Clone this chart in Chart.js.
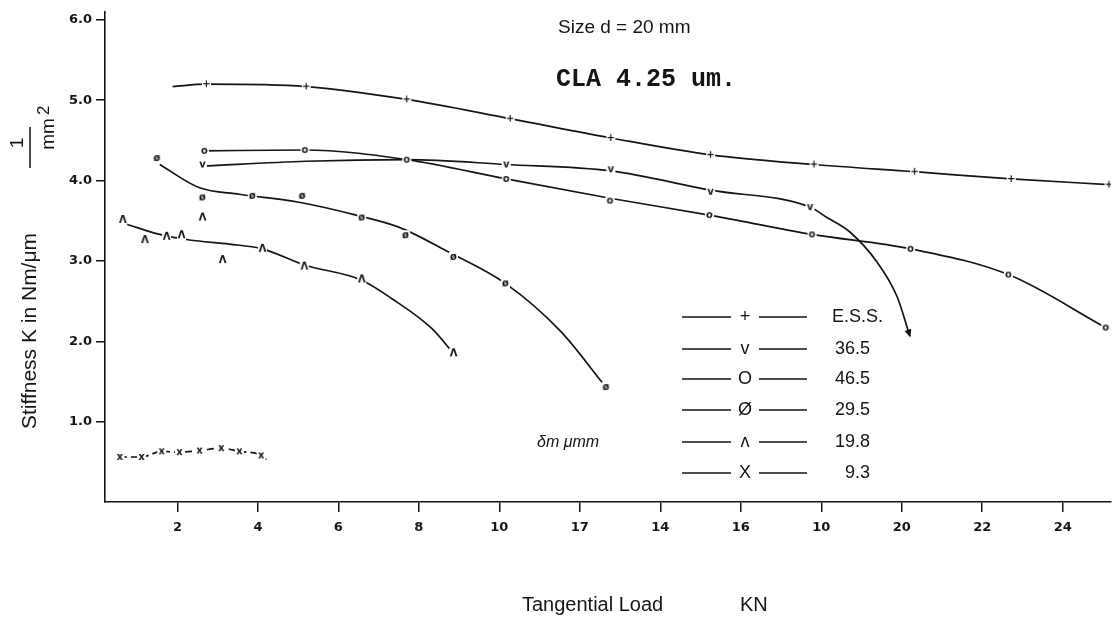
<!DOCTYPE html>
<html>
<head>
<meta charset="utf-8">
<title>Stiffness vs tangential load</title>
<script src="https://cdn.jsdelivr.net/npm/chart.js@4.4.1/dist/chart.umd.min.js"></script>
<style>
    html, body { margin: 0; padding: 0; background: #fff; }
    #wrap { width: 1117px; height: 631px; }
</style>
</head>
<body>
<div id="wrap"><canvas id="stiffChart" width="1117" height="631"></canvas></div>
<script>
// axis ticks (the printed labels, as they appear on the sheet)
const xTickVals = [2, 4, 6, 8, 10, 12, 14, 16, 18, 20, 22, 24];
const xTickText = ['2', '4', '6', '8', '10', '17', '14', '16', '10', '20', '22', '24'];
const yTickVals = [1, 2, 3, 4, 5, 6];
const yTickText = ['1.0', '2.0', '3.0', '4.0', '5.0', '6.0'];

// E.S.S.
const essX = [2.72, 5.20, 7.70, 10.27, 12.77, 15.25, 17.82, 20.32, 22.72, 25.15];
const essY = [5.20, 5.17, 5.01, 4.77, 4.53, 4.32, 4.20, 4.11, 4.02, 3.95];
const essCurveX = [1.88, 2.72, 5.20, 7.70, 10.27, 12.77, 15.25, 17.82, 20.32, 22.72, 25.15];
const essCurveY = [5.17, 5.20, 5.17, 5.01, 4.77, 4.53, 4.32, 4.20, 4.11, 4.02, 3.95];

// 36.5
const v365X = [2.62, 10.17, 12.77, 15.25, 17.72];
const v365Y = [4.20, 4.20, 4.14, 3.86, 3.67];
const v365CurveX = [2.62, 5.20, 7.70, 10.17, 12.77, 15.25, 17.72, 18.14, 18.71, 19.38, 19.88, 20.20];
const v365CurveY = [4.18, 4.24, 4.26, 4.20, 4.12, 3.88, 3.67, 3.54, 3.36, 2.99, 2.56, 2.07];

// 46.5
const o465X = [2.67, 5.17, 7.70, 10.17, 12.75, 15.22, 17.77, 20.22, 22.65, 25.07];
const o465Y = [4.37, 4.38, 4.26, 4.02, 3.75, 3.57, 3.33, 3.15, 2.83, 2.17];
const o465CurveX = [2.67, 5.17, 7.70, 10.17, 12.75, 15.22, 17.77, 20.22, 22.65, 25.07];
const o465CurveY = [4.37, 4.38, 4.26, 4.02, 3.78, 3.57, 3.33, 3.15, 2.83, 2.17];

// 29.5
const o295X = [1.49, 2.62, 3.86, 5.10, 6.58, 7.67, 8.86, 10.15, 12.65];
const o295Y = [4.28, 3.79, 3.81, 3.81, 3.54, 3.32, 3.05, 2.72, 1.43];
const o295CurveX = [1.56, 2.55, 3.54, 5.02, 6.44, 7.50, 8.74, 10.15, 11.53, 12.60];
const o295CurveY = [4.20, 3.91, 3.83, 3.73, 3.57, 3.42, 3.11, 2.72, 2.12, 1.46];

// 19.8
const a198X = [0.64, 1.19, 1.73, 2.10, 2.62, 3.12, 4.11, 5.15, 6.58, 8.86];
const a198Y = [3.51, 3.26, 3.30, 3.32, 3.54, 3.01, 3.15, 2.93, 2.77, 1.85];
const a198CurveX = [0.72, 1.56, 2.30, 3.29, 4.11, 5.15, 6.58, 7.33, 8.32, 8.86];
const a198CurveY = [3.46, 3.33, 3.26, 3.21, 3.15, 2.95, 2.76, 2.53, 2.16, 1.85];

// 9.3
const x93X = [0.57, 1.11, 1.61, 2.05, 2.55, 3.09, 3.54, 4.08];
const x93Y = [0.56, 0.56, 0.63, 0.62, 0.64, 0.67, 0.63, 0.58];
const x93CurveX = [0.57, 1.11, 1.61, 2.05, 2.55, 3.09, 3.54, 4.08, 4.28];
const x93CurveY = [0.56, 0.56, 0.63, 0.62, 0.64, 0.67, 0.63, 0.58, 0.49];

const keyNames = ['E.S.S.', '36.5', '46.5', '29.5', '19.8', '9.3'];
const keyGlyphs = ['+', 'v', 'O', 'Ø', 'ʌ', 'X'];
const plotGlyphs = ['+', 'v', 'o', 'ø', 'Λ', 'x'];

const INK = '#151515';

function pts(xs, ys) {
    return xs.map((x, i) => ({ x: x, y: ys[i] }));
}

// small glyph drawn on a white patch, so the curve breaks around each point
function glyphMarker(ch) {
    const c = document.createElement('canvas');
    c.width = 11;
    c.height = 12;
    const g = c.getContext('2d');
    g.fillStyle = '#fff';
    g.fillRect(1, 1, 9, 10);
    g.fillStyle = INK;
    g.font = 'bold 10px "DejaVu Sans"';
    g.textAlign = 'center';
    g.textBaseline = 'middle';
    g.fillText(ch, 5.5, 6.5);
    return c;
}

const series = [
    { marks: pts(essX, essY), curve: pts(essCurveX, essCurveY), dash: [] },
    { marks: pts(v365X, v365Y), curve: pts(v365CurveX, v365CurveY), dash: [] },
    { marks: pts(o465X, o465Y), curve: pts(o465CurveX, o465CurveY), dash: [] },
    { marks: pts(o295X, o295Y), curve: pts(o295CurveX, o295CurveY), dash: [] },
    { marks: pts(a198X, a198Y), curve: pts(a198CurveX, a198CurveY), dash: [] },
    { marks: pts(x93X, x93Y), curve: pts(x93CurveX, x93CurveY), dash: [7, 4] }
];

const datasets = [];
series.forEach((s, i) => {
    datasets.push({
        label: keyNames[i] + ' curve',
        data: s.curve,
        showLine: true,
        pointRadius: 0,
        borderColor: INK,
        borderWidth: 1.7,
        borderDash: s.dash,
        cubicInterpolationMode: 'monotone',
        order: 2
    });
    datasets.push({
        label: keyNames[i],
        data: s.marks,
        showLine: false,
        pointStyle: glyphMarker(plotGlyphs[i]),
        pointRadius: 5,
        order: 1
    });
});

// arrow head on the end of the 36.5 curve
const curveArrow = {
    id: 'curveArrow',
    afterDatasetsDraw(chart) {
        const xs = chart.scales.x, ys = chart.scales.y;
        const n = v365CurveX.length;
        const x1 = xs.getPixelForValue(v365CurveX[n - 2]), y1 = ys.getPixelForValue(v365CurveY[n - 2]);
        const x2 = xs.getPixelForValue(v365CurveX[n - 1]), y2 = ys.getPixelForValue(v365CurveY[n - 1]);
        const a = Math.atan2(y2 - y1, x2 - x1);
        const ctx = chart.ctx;
        ctx.save();
        ctx.fillStyle = INK;
        ctx.translate(x2, y2);
        ctx.rotate(a);
        ctx.beginPath();
        ctx.moveTo(2, 0);
        ctx.lineTo(-6, -3.5);
        ctx.lineTo(-6, 3.5);
        ctx.closePath();
        ctx.fill();
        ctx.restore();
    }
};

// titles, axis captions and the key are all painted straight onto the canvas
const annotations = {
    id: 'annotations',
    afterDraw(chart) {
        const ctx = chart.ctx;
        ctx.save();
        ctx.fillStyle = INK;
        ctx.strokeStyle = INK;

        ctx.textAlign = 'left';
        ctx.textBaseline = 'alphabetic';
        ctx.font = '19px "Liberation Sans"';
        ctx.fillText('Size d = 20 mm', 558, 33);
        ctx.font = 'bold 25px "Liberation Mono"';
        ctx.fillText('CLA 4.25 um.', 556, 86);

        // x caption
        ctx.font = '20px "Liberation Sans"';
        ctx.fillText('Tangential Load', 522, 611);
        ctx.fillText('KN', 740, 611);

        // y caption
        ctx.save();
        ctx.translate(30, 331);
        ctx.rotate(-Math.PI / 2);
        ctx.textAlign = 'center';
        ctx.textBaseline = 'middle';
        ctx.font = '21px "Liberation Sans"';
        ctx.fillText('Stiffness K in Nm/\u03bcm', 0, 0);
        ctx.restore();

        // 1/mm2 fraction beside it
        ctx.save();
        ctx.translate(18, 143);
        ctx.rotate(-Math.PI / 2);
        ctx.textAlign = 'center';
        ctx.textBaseline = 'middle';
        ctx.font = '19px "Liberation Sans"';
        ctx.fillText('1', 0, 0);
        ctx.restore();
        ctx.lineWidth = 1.5;
        ctx.beginPath();
        ctx.moveTo(30, 127);
        ctx.lineTo(30, 168);
        ctx.stroke();
        ctx.save();
        ctx.translate(49, 134);
        ctx.rotate(-Math.PI / 2);
        ctx.textAlign = 'center';
        ctx.textBaseline = 'middle';
        ctx.font = '19px "Liberation Sans"';
        ctx.fillText('mm', 0, 0);
        ctx.textAlign = 'left';
        ctx.font = '17px "Liberation Sans"';
        ctx.fillText('2', 19, -5);
        ctx.restore();

        // key
        ctx.font = 'italic 16px "Liberation Sans"';
        ctx.textAlign = 'left';
        ctx.textBaseline = 'middle';
        ctx.fillText('\u03b4m \u03bcmm', 537, 443);

        const rowY = [317, 349, 379, 410, 442, 473];
        ctx.lineWidth = 1.7;
        keyNames.forEach((name, i) => {
            const y = rowY[i];
            ctx.beginPath();
            ctx.moveTo(682, y);
            ctx.lineTo(731, y);
            ctx.moveTo(759, y);
            ctx.lineTo(807, y);
            ctx.stroke();
            ctx.font = '18px "Liberation Sans"';
            ctx.textAlign = 'center';
            ctx.fillText(keyGlyphs[i], 745, y);
            if (i === 0) {
                ctx.textAlign = 'left';
                ctx.fillText(name, 832, y);
            } else {
                ctx.textAlign = 'right';
                ctx.fillText(name, 870, y);
            }
        });
        ctx.restore();
    }
};

const ctxStiff = document.getElementById('stiffChart').getContext('2d');
const stiffChart = new Chart(ctxStiff, {
    type: 'scatter',
    data: { datasets: datasets },
    options: {
        responsive: false,
        animation: false,
        layout: { padding: { top: 8, right: 2, left: 0, bottom: 0 } },
        scales: {
            x: {
                type: 'linear',
                min: 0.2,
                max: 25.2,
                afterBuildTicks: s => { s.ticks = xTickVals.map(v => ({ value: v })); },
                afterFit: s => { s.height = 129; },
                ticks: {
                    color: INK,
                    padding: 8,
                    font: { family: 'DejaVu Sans', size: 13, weight: 'bold' },
                    maxRotation: 0,
                    autoSkip: false,
                    callback: (v, i) => xTickText[i]
                },
                grid: { drawOnChartArea: false, drawTicks: true, tickLength: 10, color: INK, lineWidth: 1.5 },
                border: { color: INK, width: 1.6 }
            },
            y: {
                type: 'linear',
                min: 0,
                max: 6.1,
                afterBuildTicks: s => { s.ticks = yTickVals.map(v => ({ value: v })); },
                afterFit: s => { s.width = 105; },
                ticks: {
                    color: INK,
                    padding: 4,
                    font: { family: 'DejaVu Sans', size: 13, weight: 'bold' },
                    autoSkip: false,
                    callback: (v, i) => yTickText[i]
                },
                grid: { drawOnChartArea: false, drawTicks: true, tickLength: 9, color: INK, lineWidth: 1.5 },
                border: { color: INK, width: 1.6 }
            }
        },
        plugins: {
            legend: { display: false },
            tooltip: { enabled: false }
        }
    },
    plugins: [curveArrow, annotations]
});
</script>
</body>
</html>
